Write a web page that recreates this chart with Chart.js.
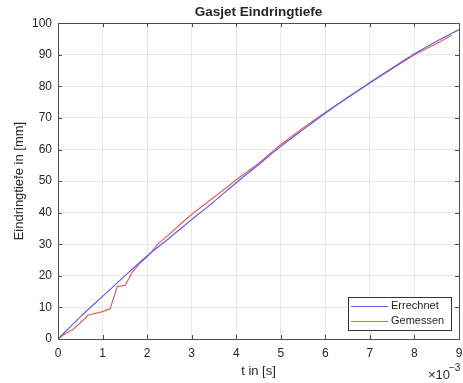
<!DOCTYPE html>
<html>
<head>
<meta charset="utf-8">
<script src="https://cdn.jsdelivr.net/npm/chart.js@4/dist/chart.umd.min.js"></script>
<style>
  html, body { margin: 0; padding: 0; background: #fff; }
  #wrap { width: 463px; height: 383px; }
</style>
</head>
<body>
<div id="wrap"><canvas id="chart" width="463" height="383"></canvas></div>
<script>
// t in units of 1e-3 s, depth in mm
const tCalc = [0, 0.5, 1, 1.5, 2, 2.5, 3, 3.5, 4, 4.5, 5, 5.5, 6, 6.5, 7, 7.5, 8, 8.5, 9];
const depthCalc = [0, 7, 13.5, 20, 26.3, 32, 37.8, 43.5, 49.5, 55.2, 61, 66.3, 71.5, 76.5, 81.2, 85.8, 90.3, 94.3, 98];

const tMeas = [0, 0.15, 0.34, 0.49, 0.68, 0.98, 1.17, 1.33, 1.51, 1.66, 1.84, 2.0, 2.1, 2.25, 2.5, 2.75, 3, 3.25, 3.5, 3.75, 4, 4.5, 5, 5.5, 6, 6.5, 7, 7.5, 8, 8.5, 8.83];
const depthMeas = [0, 1.6, 3.1, 5.0, 7.6, 8.6, 9.6, 16.6, 17.0, 21.0, 24.0, 26.0, 27.6, 30.2, 33.2, 36.4, 39.4, 42.2, 44.9, 47.6, 50.4, 55.6, 61.6, 66.8, 71.8, 76.4, 81.1, 85.6, 90.0, 93.6, 96.2];

const xTicks = [0, 1, 2, 3, 4, 5, 6, 7, 8, 9];
const yTicks = [0, 10, 20, 30, 40, 50, 60, 70, 80, 90, 100];

const txt = "#262626";
const font = "Liberation Sans, Arial, sans-serif";

function pts(xs, ys) {
  return xs.map((x, i) => ({ x: x, y: ys[i] }));
}

// frame, inward ticks, legend and exponent label
const matlabBits = {
  id: "matlabBits",
  afterDraw(chart) {
    const c = chart.ctx;
    const a = chart.chartArea;
    const xs = chart.scales.x;
    const ys = chart.scales.y;
    c.save();
    c.strokeStyle = "#4d4d4d";
    c.lineWidth = 1;
    c.beginPath();
    xTicks.forEach((v) => {
      const px = Math.round(xs.getPixelForValue(v)) + 0.5;
      c.moveTo(px, a.bottom); c.lineTo(px, a.bottom - 4);
      c.moveTo(px, a.top); c.lineTo(px, a.top + 4);
    });
    yTicks.forEach((v) => {
      const py = Math.round(ys.getPixelForValue(v)) + 0.5;
      c.moveTo(a.left, py); c.lineTo(a.left + 4, py);
      c.moveTo(a.right, py); c.lineTo(a.right - 4, py);
    });
    c.stroke();
    c.strokeRect(Math.round(a.left) + 0.5, Math.round(a.top) + 0.5,
      Math.round(a.right - a.left), Math.round(a.bottom - a.top));

    // legend box
    const lx = 348, ly = 297, lw = 103, lh = 33;
    c.fillStyle = "#fff";
    c.fillRect(lx, ly, lw, lh);
    c.strokeStyle = "#333";
    c.strokeRect(lx + 0.5, ly + 0.5, lw, lh);
    c.font = "11px " + font;
    c.textBaseline = "middle";
    chart.data.datasets.forEach((ds, i) => {
      const yy = ly + 9 + i * 15;
      c.strokeStyle = ds.borderColor;
      c.lineWidth = 1;
      c.beginPath();
      c.moveTo(351, yy + 0.5); c.lineTo(388, yy + 0.5);
      c.stroke();
      c.fillStyle = txt;
      c.fillText(ds.label, 391, yy);
    });

    // x10^-3
    c.fillStyle = txt;
    c.font = "13px " + font;
    c.textBaseline = "alphabetic";
    c.fillText("\u00d710", 428, 379);
    c.font = "10px " + font;
    c.fillText("\u22123", 449, 371);
    c.restore();
  }
};

new Chart(document.getElementById("chart"), {
  type: "line",
  data: {
    datasets: [
      {
        label: "Errechnet",
        data: pts(tCalc, depthCalc),
        borderColor: "rgb(95,95,230)",
        borderWidth: 1.2,
        pointRadius: 0,
        tension: 0.3,
      },
      {
        label: "Gemessen",
        data: pts(tMeas, depthMeas),
        borderColor: "rgb(232,95,95)",
        borderWidth: 1.2,
        pointRadius: 0,
        tension: 0,
      },
    ],
  },
  options: {
    responsive: false,
    animation: false,
    layout: { padding: { top: 0, right: 4, left: 0, bottom: 0 } },
    plugins: {
      legend: { display: false },
      tooltip: { enabled: false },
      title: {
        display: true,
        fullSize: false,
        text: "Gasjet Eindringtiefe",
        color: txt,
        font: { family: font, size: 13.5, weight: "bold" },
        padding: { top: 4, bottom: 3 },
      },
    },
    scales: {
      x: {
        type: "linear",
        min: 0,
        max: 9,
        afterFit: (s) => { s.height = 44; s.paddingRight = 0; s.paddingLeft = 0; },
        afterBuildTicks: (s) => { s.ticks = xTicks.map((v) => ({ value: v })); },
        grid: { color: "#e8e8e8", drawTicks: false },
        border: { display: false },
        ticks: { color: txt, font: { family: font, size: 12 }, padding: 7, maxRotation: 0 },
        title: {
          display: true,
          text: "t in [s]",
          color: txt,
          font: { family: font, size: 13 },
          padding: { top: 0, bottom: 4 },
        },
      },
      y: {
        min: 0,
        max: 100,
        afterFit: (s) => { s.width = 58; s.paddingTop = 0; s.paddingBottom = 0; },
        afterBuildTicks: (s) => { s.ticks = yTicks.map((v) => ({ value: v })); },
        grid: { color: "#e8e8e8", drawTicks: false },
        border: { display: false },
        ticks: { color: txt, font: { family: font, size: 12 }, padding: 6 },
        title: {
          display: true,
          text: "Eindringtiefe in [mm]",
          color: txt,
          font: { family: font, size: 13 },
          padding: { top: 12, bottom: 0 },
        },
      },
    },
  },
  plugins: [matlabBits],
});
</script>
</body>
</html>
